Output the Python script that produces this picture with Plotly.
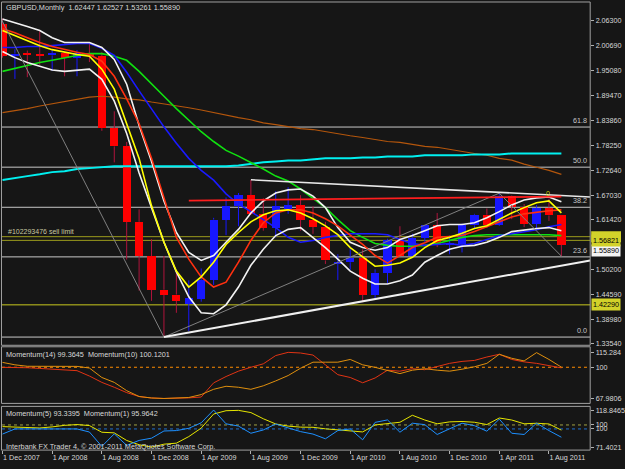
import plotly.graph_objects as go

W, H = 625, 469

# ---------------- data ----------------
month_idx = list(range(46))  # 0 = Dec 2007 ... 45 = Sep 2011
tick_months = [0, 4, 8, 12, 16, 20, 24, 28, 32, 36, 40, 44]
tick_labels = ["1 Dec 2007", "1 Apr 2008", "1 Aug 2008", "1 Dec 2008", "1 Apr 2009",
               "1 Aug 2009", "1 Dec 2009", "1 Apr 2010", "1 Aug 2010", "1 Dec 2010",
               "1 Apr 2011", "1 Aug 2011"]

price_open = [2.0560, 1.9840, 1.9890, 1.9860, 1.9850, 1.9900, 1.9790, 1.9900, 1.9840, 1.8210,
              1.7800, 1.6100, 1.5330, 1.4570, 1.4460, 1.4250, 1.4370, 1.4790, 1.6150, 1.6460,
              1.6700, 1.6280, 1.5970, 1.6400, 1.6480, 1.6150, 1.5990, 1.5160, 1.5190, 1.5290,
              1.4460, 1.4950, 1.5690, 1.5340, 1.5740, 1.6020, 1.5580, 1.5610, 1.6020, 1.6260,
              1.6040, 1.6690, 1.6440, 1.6050, 1.6420, 1.62447]
price_high = [2.0680, 1.9990, 1.9960, 2.0390, 1.9990, 1.9930, 1.9970, 2.0150, 1.9920, 1.8590,
              1.7900, 1.6380, 1.5710, 1.5330, 1.4990, 1.4780, 1.5050, 1.6190, 1.6650, 1.6750,
              1.7043, 1.6630, 1.6790, 1.6880, 1.6700, 1.6450, 1.6100, 1.5370, 1.5520, 1.5480,
              1.5030, 1.5720, 1.6000, 1.5830, 1.6030, 1.6300, 1.5790, 1.6060, 1.6280, 1.6400,
              1.6746, 1.6700, 1.6500, 1.6480, 1.6620, 1.62527]
price_low = [1.9800, 1.9320, 1.9360, 1.9640, 1.9500, 1.9380, 1.9380, 1.9700, 1.8150, 1.7440,
             1.5250, 1.4550, 1.4320, 1.3503, 1.4050, 1.3640, 1.4300, 1.4680, 1.5800, 1.6000,
             1.6250, 1.5900, 1.5750, 1.6280, 1.5900, 1.5830, 1.5150, 1.4790, 1.5020, 1.4290,
             1.4350, 1.4710, 1.5330, 1.5300, 1.5650, 1.5530, 1.5370, 1.5410, 1.5960, 1.5960,
             1.6010, 1.6160, 1.5980, 1.5930, 1.6120, 1.53261]
price_close = [1.9840, 1.9890, 1.9860, 1.9850, 1.9900, 1.9800, 1.9900, 1.9840, 1.8210, 1.7800,
               1.6100, 1.5330, 1.4570, 1.4460, 1.4320, 1.4380, 1.4790, 1.6150, 1.6460, 1.6700,
               1.6280, 1.5970, 1.6450, 1.6480, 1.6150, 1.5990, 1.5230, 1.5190, 1.5290, 1.4460,
               1.4950, 1.5690, 1.5340, 1.5740, 1.6020, 1.5580, 1.5610, 1.6020, 1.6260, 1.6040,
               1.6690, 1.6440, 1.6050, 1.6420, 1.62447, 1.55890]

ma_yellow = [2.041, 2.030, 2.018, 2.007, 1.998, 1.992, 1.987, 1.983, 1.954, 1.909,
             1.831, 1.753, 1.646, 1.564, 1.499, 1.463, 1.486, 1.519, 1.559, 1.586,
             1.610, 1.626, 1.635, 1.637, 1.630, 1.617, 1.601, 1.581, 1.552, 1.532,
             1.510, 1.512, 1.517, 1.530, 1.552, 1.568, 1.575, 1.584, 1.595, 1.601,
             1.615, 1.630, 1.642, 1.653, 1.657, 1.630]
ma_red = [2.045, 2.036, 2.025, 2.014, 2.005, 1.998, 1.992, 1.987, 1.972, 1.938,
          1.887, 1.831, 1.753, 1.664, 1.575, 1.526, 1.486, 1.463, 1.474, 1.519,
          1.568, 1.608, 1.630, 1.637, 1.637, 1.630, 1.617, 1.601, 1.581, 1.559,
          1.534, 1.517, 1.534, 1.552, 1.563, 1.575, 1.577, 1.579, 1.588, 1.599,
          1.610, 1.621, 1.628, 1.632, 1.635, 1.637]
ma_blue = [2.003, 2.003, 2.005, 2.005, 2.007, 2.009, 2.012, 2.012, 2.001, 1.985,
           1.947, 1.905, 1.865, 1.824, 1.787, 1.753, 1.726, 1.704, 1.673, 1.650,
           1.633, 1.615, 1.597, 1.575, 1.564, 1.568, 1.575, 1.579, 1.583, 1.583,
           1.583, 1.581, 1.570, 1.561, 1.557, 1.559, 1.561, 1.557, 1.561, 1.570,
           1.579, 1.583, 1.588, 1.592, 1.599, 1.604]
ma_green = [1.949, 1.956, 1.963, 1.969, 1.974, 1.980, 1.985, 1.989, 1.989, 1.983,
            1.974, 1.949, 1.920, 1.893, 1.865, 1.838, 1.813, 1.791, 1.771, 1.758,
            1.744, 1.729, 1.713, 1.702, 1.684, 1.664, 1.642, 1.615, 1.590, 1.575,
            1.561, 1.557, 1.555, 1.555, 1.557, 1.561, 1.568, 1.575, 1.579, 1.581,
            1.581, 1.581, 1.581, 1.581, 1.581, 1.579]
ma_brown = [1.856, 1.860, 1.865, 1.871, 1.876, 1.882, 1.887, 1.891, 1.893, 1.891,
            1.887, 1.885, 1.880, 1.876, 1.871, 1.867, 1.862, 1.856, 1.851, 1.845,
            1.840, 1.833, 1.829, 1.824, 1.820, 1.818, 1.813, 1.809, 1.804, 1.800,
            1.795, 1.791, 1.789, 1.784, 1.780, 1.778, 1.773, 1.769, 1.764, 1.760,
            1.753, 1.749, 1.740, 1.733, 1.726, 1.717]
ma_cyan = [1.704, 1.709, 1.713, 1.717, 1.722, 1.724, 1.729, 1.731, 1.733, 1.735,
           1.735, 1.735, 1.735, 1.735, 1.735, 1.735, 1.735, 1.735, 1.735, 1.737,
           1.741, 1.744, 1.746, 1.748, 1.748, 1.751, 1.753, 1.753, 1.753, 1.755,
           1.755, 1.757, 1.757, 1.757, 1.760, 1.760, 1.760, 1.760, 1.762, 1.762,
           1.762, 1.764, 1.764, 1.764, 1.764, 1.764]
band_upper = [2.067, 2.059, 2.050, 2.041, 2.025, 2.014, 2.014, 2.014, 2.003, 1.976,
              1.920, 1.827, 1.746, 1.657, 1.586, 1.541, 1.523, 1.534, 1.564, 1.593,
              1.630, 1.657, 1.675, 1.682, 1.684, 1.668, 1.642, 1.597, 1.564, 1.552,
              1.546, 1.552, 1.570, 1.579, 1.590, 1.601, 1.604, 1.604, 1.608, 1.619,
              1.633, 1.648, 1.659, 1.664, 1.666, 1.655]
band_lower = [1.994, 1.980, 1.969, 1.960, 1.952, 1.949, 1.952, 1.954, 1.931, 1.882,
              1.809, 1.720, 1.642, 1.564, 1.497, 1.441, 1.405, 1.403, 1.423, 1.463,
              1.512, 1.548, 1.579, 1.593, 1.597, 1.575, 1.552, 1.526, 1.499, 1.483,
              1.470, 1.470, 1.477, 1.490, 1.519, 1.534, 1.548, 1.555, 1.557, 1.564,
              1.575, 1.588, 1.592, 1.595, 1.597, 1.590]

fib_levels = [1.3503, 1.5310, 1.6428, 1.7332, 1.8236]
fib_labels = ["0.0", "23.6", "38.2", "50.0", "61.8"]

zigzag_x = [-1, 13, 40, 45]
zigzag_y = [2.1161, 1.3503, 1.6746, 1.53261]
trend_low_x, trend_low_y = [13, 47.32], [1.3503, 1.5230]
trend_high_x, trend_high_y = [20, 47.32], [1.7047, 1.6661]
trend_red_x, trend_red_y = [15, 45], [1.6579, 1.6668]

order_level_a = 1.5765
order_level_sell = 1.56821
order_level_b = 1.4229
bid_price = 1.55890

price_ticks = [2.063, 2.0069, 1.9508, 1.8947, 1.8386, 1.7825, 1.7264, 1.6703, 1.6142,
               1.502, 1.4459, 1.3898, 1.3354]
price_tick_text = ["2.06300", "2.00690", "1.95080", "1.89470", "1.83860", "1.78250", "1.72640",
                   "1.67030", "1.61420", "1.50200", "1.44590", "1.38980", "1.33540"]

mom14 = [99.9, 99.9, 99.5, 98.8, 97.8, 97.2, 96.5, 91.0, 84.5, 79.5,
         74.0, 70.0, 68.5, 67.98, 68.2, 68.6, 69.5, 84.0, 90.5, 96.0,
         100.0, 103.5, 112.0, 115.28, 114.6, 112.5, 102.5, 92.4, 89.5, 84.1,
         89.0, 97.0, 96.0, 98.5, 97.5, 100.9, 104.0, 106.0, 107.0, 110.5,
         113.3, 108.0, 105.5, 104.0, 102.0, 99.3645]
mom10 = [105.0, 102.5, 101.0, 100.9, 100.9, 100.9, 100.9, 99.2, 89.5, 84.5,
         76.0, 70.0, 68.5, 68.0, 68.3, 69.0, 72.0, 77.4, 80.5, 79.5,
         77.4, 81.0, 86.0, 91.5, 99.0, 105.2, 105.2, 105.2, 108.0, 102.5,
         99.9, 96.5, 93.5, 97.0, 98.5, 97.0, 96.0, 98.0, 100.5, 104.0,
         113.3, 109.2, 106.5, 115.0, 108.0, 100.1201]
mom5 = [97.9, 97.0, 96.3, 96.1, 97.5, 99.5, 100.5, 99.2, 90.6, 89.8,
        80.0, 74.5, 71.4021, 75.2, 76.5, 85.0, 96.0, 114.1, 118.4, 118.8465,
        116.0, 108.0, 101.3, 98.5, 97.2, 97.0, 95.0, 93.8, 92.0, 91.0,
        100.0, 102.2, 103.5, 112.5, 106.4, 101.5, 104.0, 104.5, 103.5, 100.5,
        109.0, 106.4, 101.5, 102.2, 101.3, 93.3395]
mom1 = [97.5, 100.0, 100.0, 100.0, 100.0, 100.0, 100.0, 98.5, 91.5, 97.6,
        92.0, 94.4, 95.5, 99.0, 99.2, 100.3, 103.0, 109.2, 102.5, 101.4,
        97.9, 99.5, 102.4, 100.5, 98.7, 97.5, 95.2, 99.2, 100.0, 94.7,
        103.2, 104.4, 98.4, 102.8, 102.1, 97.3, 100.0, 102.8, 101.6, 98.9,
        104.8, 97.9, 97.3, 102.8, 99.2, 95.9642]

# ---------------- styling helpers ----------------
BG = "#161616"
TXT = "#d8d8d8"
FONT = "Liberation Sans"
FS = 7.2
BULL = "#1717ff"
BEAR = "#ff0000"
BEAR_WICK = "#b0143c"
PX_PER_PRICE = 446.0  # main panel scale, used only for the size of label boxes


def px_x(x):
    return x / W


def px_y(y):
    return 1 - y / H


fig = go.Figure()

# candle wicks (split above/below body so they never cross the body)
for bull in (True, False):
    xs, ys = [], []
    for m, o, h, l, c in zip(month_idx, price_open, price_high, price_low, price_close):
        if (c >= o) != bull:
            continue
        top, bot = max(o, c), min(o, c)
        xs += [m, m, None, m, m, None]
        ys += [top, h, None, l, bot, None]
    fig.add_trace(go.Scatter(x=xs, y=ys, mode="lines", hoverinfo="skip",
                             line=dict(color=BULL if bull else BEAR_WICK, width=1),
                             xaxis="x", yaxis="y", showlegend=False))

# candle bodies
bases = [min(o, c) for o, c in zip(price_open, price_close)]
heights = [max(abs(c - o), 0.0022) for o, c in zip(price_open, price_close)]
colors = [BULL if c >= o else BEAR for o, c in zip(price_open, price_close)]
fig.add_trace(go.Bar(x=month_idx, y=heights, base=bases, width=0.66,
                     marker=dict(color=colors, line=dict(width=0)),
                     xaxis="x", yaxis="y", showlegend=False, hoverinfo="skip"))

# indicator lines on the price chart
for series, color, width in [
    (ma_brown, "#b4560c", 1.2),
    (ma_cyan, "#00f0f0", 2),
    (ma_green, "#10e010", 1.6),
    (ma_blue, "#1a1aff", 1.6),
    (band_upper, "#f2f2f2", 1.6),
    (band_lower, "#f2f2f2", 1.6),
    (ma_red, "#ff3010", 1.6),
    (ma_yellow, "#ffff00", 1.6),
]:
    fig.add_trace(go.Scatter(x=month_idx, y=series, mode="lines", hoverinfo="skip",
                             line=dict(color=color, width=width),
                             xaxis="x", yaxis="y", showlegend=False))

# drawn objects: zigzag and trend lines
fig.add_trace(go.Scatter(x=zigzag_x, y=zigzag_y, mode="lines", hoverinfo="skip",
                         line=dict(color="#808080", width=1), xaxis="x", yaxis="y", showlegend=False))
fig.add_trace(go.Scatter(x=trend_low_x, y=trend_low_y, mode="lines", hoverinfo="skip",
                         line=dict(color="#f0f0f0", width=2), xaxis="x", yaxis="y", showlegend=False))
fig.add_trace(go.Scatter(x=trend_high_x, y=trend_high_y, mode="lines", hoverinfo="skip",
                         line=dict(color="#e8e8e8", width=1.6), xaxis="x", yaxis="y", showlegend=False))
fig.add_trace(go.Scatter(x=trend_red_x, y=trend_red_y, mode="lines", hoverinfo="skip",
                         line=dict(color="#ff1e1e", width=1.8), xaxis="x", yaxis="y", showlegend=False))

# momentum panels
fig.add_trace(go.Scatter(x=month_idx, y=mom14, mode="lines", hoverinfo="skip",
                         line=dict(color="#e23414", width=1), xaxis="x", yaxis="y2", showlegend=False))
fig.add_trace(go.Scatter(x=month_idx, y=mom10, mode="lines", hoverinfo="skip",
                         line=dict(color="#e0900e", width=1), xaxis="x", yaxis="y2", showlegend=False))
fig.add_trace(go.Scatter(x=month_idx, y=mom5, mode="lines", hoverinfo="skip",
                         line=dict(color="#e6e600", width=1), xaxis="x", yaxis="y3", showlegend=False))
fig.add_trace(go.Scatter(x=month_idx, y=mom1, mode="lines", hoverinfo="skip",
                         line=dict(color="#1e90ff", width=1), xaxis="x", yaxis="y4", showlegend=False))

# ---------------- shapes ----------------
shapes = []
for lvl in fib_levels:
    shapes.append(dict(type="line", xref="x domain", x0=0, x1=1, yref="y", y0=lvl, y1=lvl,
                       line=dict(color="#c8c8c8", width=1), layer="below"))
for lvl, col in [(order_level_a, "#9c9c1c"), (order_level_sell, "#9c9c1c"), (order_level_b, "#c8c81e")]:
    shapes.append(dict(type="line", xref="x domain", x0=0, x1=1, yref="y", y0=lvl, y1=lvl,
                       line=dict(color=col, width=1), layer="below"))
shapes.append(dict(type="line", xref="x domain", x0=0, x1=1, yref="y2", y0=100, y1=100,
                   line=dict(color="#ff8c00", width=1, dash="dot"), layer="below"))
shapes.append(dict(type="line", xref="x domain", x0=0, x1=1, yref="y3", y0=100, y1=100,
                   line=dict(color="#a0a040", width=1, dash="dot"), layer="below"))
shapes.append(dict(type="line", xref="x domain", x0=0, x1=1, yref="y4", y0=100, y1=100,
                   line=dict(color="#2070d0", width=1, dash="dot"), layer="below"))
# panel frames
for (y0, y1) in [(2, 347.5), (349, 406), (409, 453)]:
    shapes.append(dict(type="rect", xref="paper", yref="paper",
                       x0=px_x(1.5), x1=px_x(594), y0=px_y(y1), y1=px_y(y0),
                       line=dict(color="#a0a0a0", width=1), fillcolor="rgba(0,0,0,0)"))
# price box of the upper order line, almost fully covered by the 1.56821 box
shapes.append(dict(type="rect", xref="paper", yref="y",
                   x0=px_x(595), x1=px_x(625),
                   y0=order_level_a - 5.5 / PX_PER_PRICE, y1=order_level_a + 5.5 / PX_PER_PRICE,
                   line=dict(width=0), fillcolor="#d2d22a"))

# ---------------- annotations ----------------
ann = []


def txt(x, y, s, color=TXT, size=FS, xanchor="left", yanchor="middle", xref="paper", yref="paper",
        bg=None):
    d = dict(x=x, y=y, xref=xref, yref=yref, text=s, showarrow=False, xanchor=xanchor,
             yanchor=yanchor, font=dict(family=FONT, size=size, color=color), borderpad=1)
    if bg:
        d["bgcolor"] = bg
    ann.append(d)


txt(px_x(4), px_y(8), "GBPUSD,Monthly\u00a0\u00a01.62447 1.62527 1.53261 1.55890", size=7.3)
txt(px_x(4), px_y(357), "Momentum(14) 99.3645\u00a0\u00a0Momentum(10) 100.1201", size=7.3)
txt(px_x(4), px_y(416), "Momentum(5) 93.3395\u00a0\u00a0Momentum(1) 95.9642", size=7.3)
txt(px_x(4), px_y(449), "Interbank FX Trader 4, \u00a9 2001-2011 MetaQuotes Software Corp.", size=7.3)
txt(px_x(6), order_level_a, "#102293476 sell limit", color="#c8c8a0", yref="y", yanchor="bottom", size=7)
for lvl, lab in zip(fib_levels, fib_labels):
    txt(px_x(593), lvl, lab, color="#c8c8c8", xanchor="right", yanchor="bottom", yref="y")
txt(43.9, 1.673, "0", color="#d0d000", xref="x", yref="y", xanchor="center", size=7)

# right-axis price boxes
txt(px_x(595), bid_price, "1.55890", color="#000000", yref="y", yanchor="top", bg="#f4f4f4")
txt(px_x(595), order_level_sell, "1.56821", color="#000000", yref="y", bg="#d2d22a")
txt(px_x(595), order_level_b, "1.42290", color="#000000", yref="y", bg="#d2d22a")

# ---------------- layout ----------------
axis_font = dict(family=FONT, size=FS, color=TXT)
common_y = dict(showgrid=False, zeroline=False, showline=False, side="right", anchor="x",
                ticks="outside", ticklen=3, tickcolor="#b0b0b0", tickfont=axis_font)

fig.update_layout(
    width=W, height=H, margin=dict(l=0, r=0, t=0, b=0),
    paper_bgcolor=BG, plot_bgcolor=BG, showlegend=False, bargap=0,
    xaxis=dict(domain=[px_x(2), px_x(594)], range=[-0.04, 47.32], anchor="y3",
               showgrid=False, zeroline=False, showline=False,
               tickmode="array", tickvals=tick_months, ticktext=tick_labels,
               ticks="outside", ticklen=3, tickcolor="#b0b0b0",
               ticklabelposition="outside right", tickfont=axis_font),
    yaxis=dict(domain=[px_y(347.5), px_y(2)], range=[1.3318, 2.1054],
               tickmode="array", tickvals=price_ticks, ticktext=price_tick_text, **common_y),
    yaxis2=dict(domain=[px_y(406), px_y(349)], range=[62.95, 121.0],
                tickmode="array", tickvals=[115.284, 100, 67.9806],
                ticktext=["115.284", "100", "67.9806"], **common_y),
    yaxis3=dict(domain=[px_y(453), px_y(409)], range=[67.55, 123.98],
                tickmode="array", tickvals=[118.8465, 100, 71.4021],
                ticktext=["118.8465", "100", "71.4021"], **common_y),
    yaxis4=dict(overlaying="y3", range=[89.69, 110.99],
                tickmode="array", tickvals=[100], ticktext=["100"], **common_y),
    shapes=shapes, annotations=ann,
)

fig.write_html("out.html")
